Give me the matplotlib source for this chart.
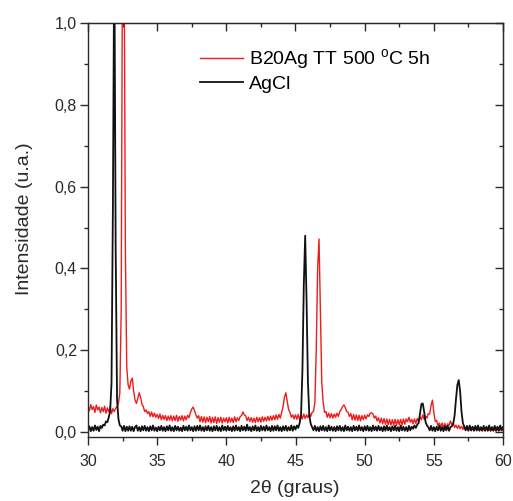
import matplotlib
matplotlib.use("Agg")
import matplotlib.pyplot as plt
import numpy as np
from matplotlib.ticker import MultipleLocator, FuncFormatter

plt.rcParams["font.family"] = ["Liberation Sans", "DejaVu Sans"]
plt.rcParams["mathtext.fontset"] = "custom"
plt.rcParams["mathtext.rm"] = "Liberation Sans"

# 2theta grid: 30.0 .. 60.0 in 0.1 deg steps
two_theta = np.round(np.arange(300, 601) / 10.0, 1)

# B20Ag TT 500 C 5h (one row per degree)
red_intensity = [
    0.064, 0.052, 0.067, 0.055, 0.062, 0.048, 0.066, 0.054, 0.061, 0.047,
    0.060, 0.050, 0.063, 0.046, 0.059, 0.049, 0.062, 0.045, 0.057, 0.050,
    0.058, 0.062, 0.070, 0.095, 0.300, 1.250, 1.300, 0.450, 0.160, 0.115,
    0.105, 0.125, 0.132, 0.100, 0.078, 0.070, 0.082, 0.096, 0.085, 0.068,
    0.062, 0.050, 0.054, 0.045, 0.050, 0.038, 0.049, 0.037, 0.046, 0.036,
    0.043, 0.033, 0.044, 0.030, 0.041, 0.031, 0.040, 0.028, 0.039, 0.029,
    0.040, 0.027, 0.039, 0.028, 0.041, 0.026, 0.038, 0.029, 0.040, 0.027,
    0.039, 0.030, 0.041, 0.035, 0.047, 0.056, 0.061, 0.052, 0.042, 0.034,
    0.040, 0.025, 0.038, 0.024, 0.037, 0.023, 0.036, 0.025, 0.038, 0.022,
    0.036, 0.023, 0.037, 0.021, 0.035, 0.024, 0.036, 0.022, 0.034, 0.025,
    0.035, 0.022, 0.036, 0.024, 0.034, 0.023, 0.037, 0.025, 0.035, 0.028,
    0.038, 0.040, 0.049, 0.042, 0.040, 0.028, 0.036, 0.026, 0.035, 0.024,
    0.034, 0.023, 0.036, 0.025, 0.035, 0.024, 0.037, 0.026, 0.036, 0.027,
    0.038, 0.028, 0.039, 0.029, 0.040, 0.030, 0.042, 0.031, 0.043, 0.034,
    0.048, 0.062, 0.085, 0.096, 0.075, 0.055, 0.048, 0.036, 0.042, 0.032,
    0.042, 0.031, 0.043, 0.030, 0.041, 0.032, 0.044, 0.033, 0.042, 0.035,
    0.045, 0.038, 0.048, 0.050, 0.072, 0.200, 0.400, 0.472, 0.290, 0.120,
    0.072, 0.048, 0.050, 0.036, 0.046, 0.035, 0.045, 0.034, 0.044, 0.036,
    0.046, 0.038, 0.050, 0.055, 0.062, 0.066, 0.060, 0.050, 0.048, 0.038,
    0.045, 0.030, 0.043, 0.029, 0.042, 0.028, 0.041, 0.027, 0.040, 0.030,
    0.041, 0.032, 0.042, 0.038, 0.046, 0.047, 0.044, 0.034, 0.039, 0.027,
    0.035, 0.022, 0.034, 0.020, 0.033, 0.019, 0.032, 0.018, 0.031, 0.017,
    0.030, 0.017, 0.031, 0.016, 0.030, 0.018, 0.031, 0.017, 0.032, 0.019,
    0.032, 0.025, 0.036, 0.024, 0.031, 0.020, 0.032, 0.021, 0.033, 0.025,
    0.037, 0.030, 0.042, 0.031, 0.039, 0.034, 0.045, 0.044, 0.065, 0.078,
    0.048, 0.026, 0.028, 0.015, 0.022, 0.012, 0.022, 0.011, 0.021, 0.010,
    0.020, 0.016, 0.027, 0.018, 0.022, 0.011, 0.017, 0.009, 0.016, 0.008,
    0.014, 0.006, 0.015, 0.005, 0.013, 0.004, 0.012, 0.003, 0.011, 0.004,
    0.010, 0.003, 0.009, 0.004, 0.008, 0.002, 0.009, 0.003, 0.008, 0.002,
    0.008, 0.003, 0.009, 0.002, 0.007, 0.003, 0.008, 0.002, 0.007, 0.003,
    0.005,
]

# AgCl reference (one row per degree)
black_intensity = [
    0.004, 0.014, 0.002, 0.012, 0.003, 0.016, 0.005, 0.013, 0.002, 0.015,
    0.010, 0.018, 0.016, 0.026, 0.024, 0.036, 0.050, 0.120, 0.550, 1.200,
    0.450, 0.080, 0.032, 0.016, 0.014, 0.003, 0.015, 0.002, 0.013, 0.003,
    0.014, 0.003, 0.013, 0.002, 0.012, 0.016, 0.003, 0.012, 0.002, 0.014,
    0.004, 0.015, 0.003, 0.012, 0.002, 0.014, 0.004, 0.016, 0.003, 0.011,
    0.002, 0.013, 0.004, 0.015, 0.003, 0.012, 0.002, 0.014, 0.004, 0.016,
    0.003, 0.012, 0.002, 0.015, 0.004, 0.013, 0.003, 0.011, 0.002, 0.015,
    0.004, 0.013, 0.003, 0.016, 0.004, 0.012, 0.002, 0.014, 0.003, 0.015,
    0.004, 0.016, 0.003, 0.012, 0.002, 0.014, 0.004, 0.015, 0.003, 0.012,
    0.002, 0.014, 0.004, 0.015, 0.003, 0.012, 0.002, 0.016, 0.004, 0.013,
    0.003, 0.015, 0.004, 0.012, 0.002, 0.014, 0.003, 0.016, 0.004, 0.012,
    0.002, 0.015, 0.004, 0.013, 0.003, 0.018, 0.004, 0.012, 0.002, 0.014,
    0.004, 0.016, 0.003, 0.012, 0.002, 0.015, 0.004, 0.013, 0.003, 0.016,
    0.004, 0.012, 0.002, 0.015, 0.003, 0.014, 0.004, 0.016, 0.003, 0.012,
    0.002, 0.014, 0.004, 0.015, 0.003, 0.012, 0.004, 0.016, 0.003, 0.014,
    0.006, 0.016, 0.010, 0.022, 0.040, 0.150, 0.360, 0.480, 0.320, 0.120,
    0.040, 0.020, 0.012, 0.004, 0.015, 0.003, 0.012, 0.002, 0.014, 0.004,
    0.015, 0.003, 0.012, 0.002, 0.016, 0.004, 0.013, 0.003, 0.012, 0.002,
    0.014, 0.004, 0.015, 0.003, 0.012, 0.002, 0.016, 0.004, 0.013, 0.003,
    0.012, 0.002, 0.015, 0.004, 0.013, 0.003, 0.016, 0.004, 0.012, 0.002,
    0.014, 0.004, 0.015, 0.003, 0.012, 0.002, 0.016, 0.004, 0.013, 0.003,
    0.015, 0.004, 0.012, 0.002, 0.014, 0.003, 0.016, 0.004, 0.012, 0.002,
    0.014, 0.004, 0.015, 0.003, 0.012, 0.002, 0.016, 0.004, 0.013, 0.003,
    0.012, 0.002, 0.015, 0.004, 0.013, 0.008, 0.016, 0.010, 0.018, 0.022,
    0.045, 0.068, 0.070, 0.050, 0.025, 0.016, 0.012, 0.004, 0.015, 0.003,
    0.012, 0.002, 0.013, 0.004, 0.015, 0.003, 0.012, 0.002, 0.014, 0.004,
    0.015, 0.003, 0.012, 0.014, 0.020, 0.040, 0.080, 0.115, 0.127, 0.100,
    0.050, 0.022, 0.013, 0.004, 0.015, 0.003, 0.016, 0.004, 0.013, 0.003,
    0.015, 0.004, 0.016, 0.003, 0.012, 0.004, 0.015, 0.003, 0.013, 0.004,
    0.016, 0.003, 0.012, 0.004, 0.015, 0.003, 0.013, 0.004, 0.016, 0.005,
    0.012,
]

series_labels = ["B20Ag TT 500 $^{\\rm o}$C 5h", "AgCl"]
series_colors = ["#ee1c1c", "#111111"]

fig = plt.figure(figsize=(5.13, 5.01), dpi=100)
ax = fig.add_axes([88 / 513, 64 / 501, 415 / 513, 414 / 501])

ax.plot(two_theta, red_intensity, color=series_colors[0], lw=1.0, label=series_labels[0])
ax.plot(two_theta, black_intensity, color=series_colors[1], lw=1.3, label=series_labels[1])

ax.set_xlim(30, 60)
ax.set_ylim(-0.0122, 1.0)

ax.xaxis.set_major_locator(MultipleLocator(5))
ax.xaxis.set_minor_locator(MultipleLocator(2.5))
ax.set_yticks(np.arange(0, 1.01, 0.2))
ax.yaxis.set_minor_locator(MultipleLocator(0.1))
ax.yaxis.set_major_formatter(FuncFormatter(lambda v, p: f"{v:.1f}".replace(".", ",")))

text_color = "#2a2a2a"
ax.tick_params(which="both", direction="out", colors=text_color, labelsize=11.5, width=1.0)
ax.tick_params(which="major", length=5.5)
ax.tick_params(which="minor", length=2.8)
ax.tick_params(axis="x", which="major", pad=6.5)
ax.tick_params(axis="y", which="major", pad=2.5)
for s in ax.spines.values():
    s.set_linewidth(1.0)
    s.set_color(text_color)

# inward ticks on top and right frame
top = ax.secondary_xaxis("top")
top.xaxis.set_major_locator(MultipleLocator(5))
top.xaxis.set_minor_locator(MultipleLocator(2.5))
top.tick_params(which="both", direction="in", labeltop=False, colors=text_color, width=1.0)
top.tick_params(which="major", length=5.5)
top.tick_params(which="minor", length=2.8)
right = ax.secondary_yaxis("right")
right.set_yticks(np.arange(0, 1.01, 0.2))
right.yaxis.set_minor_locator(MultipleLocator(0.1))
right.tick_params(which="both", direction="in", labelright=False, colors=text_color, width=1.0)
right.tick_params(which="major", length=5.5)
right.tick_params(which="minor", length=2.8)

ax.set_xlabel("2\u03b8 (graus)", fontsize=14, color=text_color)
ax.set_ylabel("Intensidade (u.a.)", fontsize=14, color=text_color)
ax.xaxis.set_label_coords(0.499, -0.104)
ax.yaxis.set_label_coords(-0.1325, 0.528)

ax.legend(
    loc="upper left",
    bbox_to_anchor=(0.27, 0.942),
    frameon=False,
    fontsize=14,
    handlelength=2.2,
    handletextpad=0.3,
    labelspacing=0.2,
    borderaxespad=0,
    borderpad=0,
)

fig.savefig("out.png", dpi=100)
